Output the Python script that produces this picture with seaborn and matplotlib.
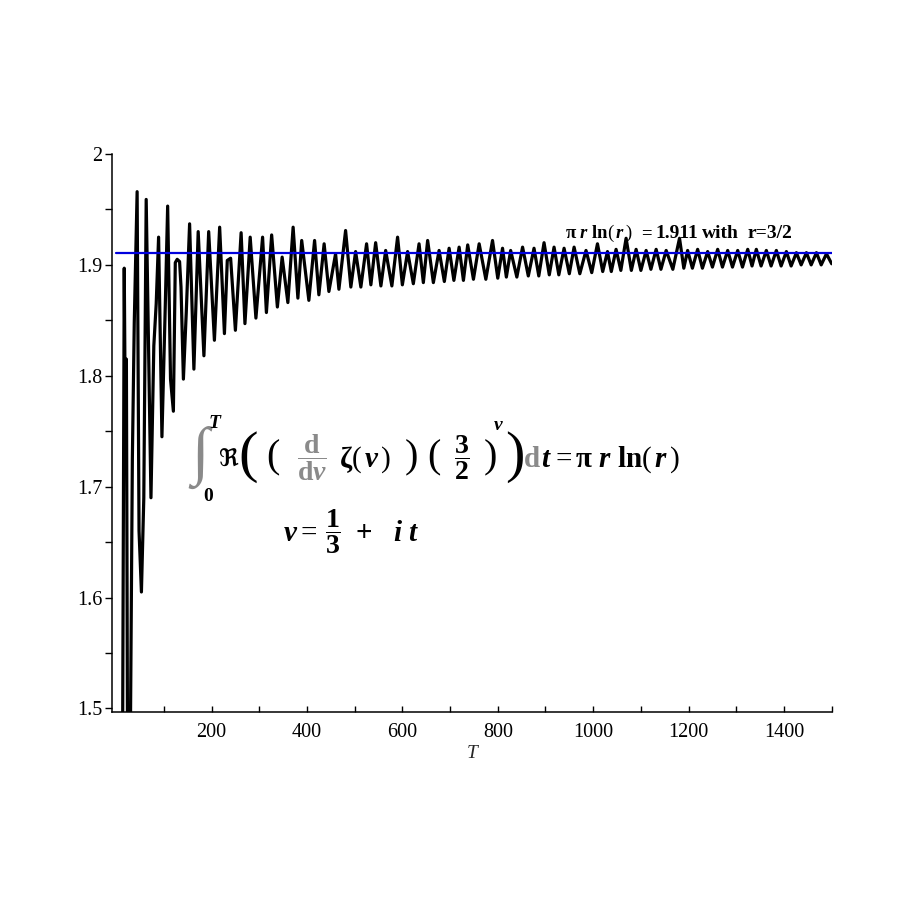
import matplotlib
matplotlib.use("Agg")
import matplotlib.pyplot as plt
import seaborn as sns
from matplotlib.ticker import FixedLocator

# Running value of the integral (peaks and troughs)
T_values = [
    0, 8, 13, 17, 19.5, 21.5, 25, 27, 34, 38, 44, 48, 53, 58, 63, 67, 73, 79, 84, 89,
    96, 103, 108, 114, 120, 124, 128, 133, 136, 141, 147, 154, 163, 172, 184, 194,
    206, 217, 227, 233, 240, 250, 262, 270, 281, 293, 307, 315, 326, 338, 348, 360,
    371, 381, 389, 404, 416, 425, 436, 446, 460, 467, 481, 492, 502, 513, 525, 534, 544,
    555, 565, 578, 590, 600, 611, 623, 635, 644, 653, 665, 677, 688, 698, 708, 719,
    728, 737, 749, 761, 775, 789, 800, 810, 818, 827, 840, 852, 864, 876, 886, 897,
    908, 918, 928, 939, 950, 960, 972, 985, 997, 1009, 1020, 1030, 1038, 1048, 1058,
    1069, 1080, 1090, 1100, 1111, 1121, 1132, 1142, 1153, 1167, 1181, 1190, 1198,
    1208, 1219, 1229, 1240, 1250, 1261, 1271, 1282, 1292, 1303, 1313, 1324, 1333,
    1342, 1352, 1363, 1373, 1384, 1394, 1405, 1415, 1426, 1436, 1447, 1457, 1468,
    1478, 1489, 1500,
]
ratio_values = [
    1.30, 1.36, 1.40, 1.897, 1.740, 1.815, 1.30, 1.30, 1.725, 1.848, 1.966, 1.660,
    1.605, 1.690, 1.959, 1.851, 1.690, 1.827, 1.865, 1.925, 1.745, 1.863, 1.953, 1.797,
    1.768, 1.902, 1.905, 1.903, 1.880, 1.797, 1.857, 1.937, 1.806, 1.930, 1.818, 1.930,
    1.832, 1.934, 1.838, 1.904, 1.906, 1.841, 1.929, 1.847, 1.925, 1.852, 1.925, 1.857,
    1.927, 1.862, 1.907, 1.866, 1.934, 1.870, 1.922, 1.868, 1.922, 1.873, 1.919, 1.876,
    1.910, 1.878, 1.931, 1.880, 1.912, 1.880, 1.919, 1.882, 1.920,
    1.881, 1.913, 1.881, 1.925, 1.882, 1.912, 1.883, 1.919, 1.884, 1.922, 1.884, 1.913,
    1.885, 1.915, 1.886, 1.916, 1.886, 1.918, 1.887, 1.919, 1.887, 1.922, 1.888, 1.915,
    1.889, 1.913, 1.889, 1.916, 1.890, 1.915, 1.890, 1.920, 1.891, 1.916, 1.891, 1.915,
    1.892, 1.916, 1.892, 1.913, 1.893, 1.919, 1.894, 1.912, 1.894, 1.914, 1.895,
    1.924, 1.895, 1.914, 1.895, 1.913, 1.896, 1.914, 1.896, 1.913, 1.896, 1.924, 1.897,
    1.913, 1.897, 1.914, 1.897, 1.912, 1.898, 1.914, 1.898, 1.913, 1.898, 1.913, 1.898,
    1.914, 1.899, 1.914, 1.899, 1.913, 1.899, 1.913, 1.899, 1.912, 1.899, 1.911, 1.900,
    1.911, 1.900, 1.911, 1.900, 1.910, 1.901,
]

# limit pi*r*ln(r) for r = 3/2
ref_T = [0, 1500]
ref_value = 1.911

x_major = [200, 400, 600, 800, 1000, 1200, 1400]
x_labels = ["200", "400", "600", "800", "1000", "1200", "1400"]
x_minor = [100, 300, 500, 700, 900, 1100, 1300, 1500]
y_major = [1.5, 1.6, 1.7, 1.8, 1.9, 2.0]
y_labels = ["1.5", "1.6", "1.7", "1.8", "1.9", "2"]
y_minor = [1.55, 1.65, 1.75, 1.85, 1.95]

sns.set_theme(style="ticks")
plt.rcParams["font.family"] = ["Liberation Serif", "DejaVu Serif"]
plt.rcParams["mathtext.fontset"] = "custom"
plt.rcParams["mathtext.rm"] = "Liberation Serif"
plt.rcParams["mathtext.it"] = "Liberation Serif:italic"
plt.rcParams["mathtext.bf"] = "Liberation Serif:bold"
plt.rcParams["mathtext.bfit"] = "Liberation Serif:italic:bold"

fig = plt.figure(figsize=(9, 9), dpi=100)
fig.patch.set_facecolor("white")
ax = fig.add_axes([0.1248, 0.2092, 0.7993, 0.6197])
ax.set_facecolor("white")

sns.lineplot(x=T_values, y=ratio_values, ax=ax, color="black", linewidth=2.3,
             estimator=None, sort=False, zorder=2)
sns.lineplot(x=ref_T, y=[ref_value] * len(ref_T), ax=ax, color="#0000dd",
             linewidth=1.6, estimator=None, zorder=3)

ax.set_xlim(-8, 1500)
ax.set_ylim(1.497, 2.0)
ax.xaxis.set_major_locator(FixedLocator(x_major))
ax.xaxis.set_minor_locator(FixedLocator(x_minor))
ax.set_xticklabels(x_labels)
ax.yaxis.set_major_locator(FixedLocator(y_major))
ax.yaxis.set_minor_locator(FixedLocator(y_minor))
ax.set_yticklabels(y_labels)
ax.tick_params(axis="x", which="both", direction="in", length=4, width=1,
               labelsize=14.5, pad=8, colors="black")
ax.tick_params(axis="y", which="both", direction="out", length=5, width=1,
               labelsize=14.5, pad=2, colors="black")
for side in ["top", "right"]:
    ax.spines[side].set_visible(False)
for side in ["left", "bottom"]:
    ax.spines[side].set_linewidth(1.1)
    ax.spines[side].set_color("black")
ax.set_xlabel("T", fontsize=14, fontstyle="italic", labelpad=2)
ax.set_ylabel("")


def put(x, y, s, **kw):
    # place text in pixel coordinates of the 900x900 canvas
    kw.setdefault("ha", "center")
    kw.setdefault("va", "center")
    kw.setdefault("color", "black")
    fig.text(x / 900, 1 - y / 900, s, **kw)


gray = "#8a8a8a"
base = 467

# label of the blue line
put(565, 238, r"$\mathbf{π}\ \mathbfit{r}\ \mathbf{ln}(\,\mathbfit{r}\,)$",
    fontsize=13.5, ha="left", va="baseline")
put(646, 238, "=", fontsize=13.5, fontweight="bold", va="baseline")
put(655, 238, "1.911", fontsize=14, fontweight="bold", ha="left", va="baseline")
put(702, 238, "with", fontsize=14, fontweight="bold", ha="left", va="baseline")
put(748, 238, "r=3/2", fontsize=14, fontweight="bold", ha="left", va="baseline")

# the identity inside the plot
put(200, 457, "∫", fontsize=46, color=gray)
put(215, 424, "T", fontsize=14, fontweight="bold", fontstyle="italic")
put(208, 497, "0", fontsize=14, fontweight="bold")
put(228, base, "ℜ", fontsize=17.5, fontweight="bold", va="baseline",
    family=["DejaVu Serif", "DejaVu Sans"])
put(248, 457, "(", fontsize=42)
put(273, 458, "(", fontsize=29)
put(312, base, r"$\dfrac{\mathbf{d}}{\mathbf{d}\mathbfit{v}}$", fontsize=20, color=gray,
    va="baseline")
put(365, base, r"$\mathbf{ζ}(\,\mathbfit{v}\,)$", fontsize=21, va="baseline")
put(411, 458, ")", fontsize=29)
put(434, 458, "(", fontsize=29)
put(462, base, r"$\dfrac{\mathbf{3}}{\mathbf{2}}$", fontsize=20, va="baseline")
put(490, 458, ")", fontsize=29)
put(498, 425, r"$\mathbfit{v}$", fontsize=14)
put(515, 457, ")", fontsize=42)
put(532, base, "d", fontsize=21, fontweight="bold", color=gray, va="baseline")
put(541, base, r"$\mathbfit{t}$", fontsize=21, ha="left", va="baseline")
put(551, base, r"$=\mathbf{π}\ \mathbfit{r}\ \mathbf{ln}(\,\mathbfit{r}\,)$", fontsize=21,
    ha="left", va="baseline")

# substitution line
put(283, 541, r"$\mathbfit{v} =$", fontsize=21, ha="left", va="baseline")
put(333, 541, r"$\dfrac{\mathbf{1}}{\mathbf{3}}$", fontsize=20, va="baseline")
put(364, 541, "+", fontsize=21, fontweight="bold", va="baseline")
put(398, 541, r"$\mathbfit{i}$", fontsize=21, va="baseline")
put(413, 541, r"$\mathbfit{t}$", fontsize=21, va="baseline")

fig.savefig("out.png", dpi=100, facecolor="white")
